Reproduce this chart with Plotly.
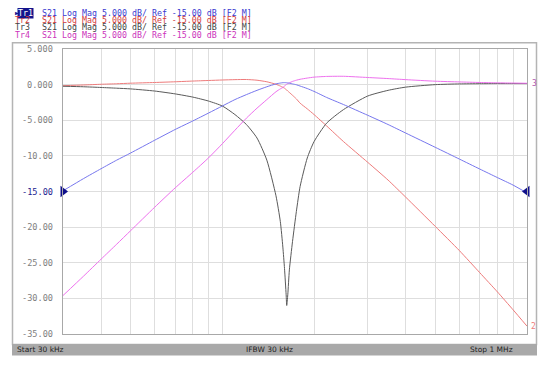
import plotly.graph_objects as go

# ---------------- data ----------------
freq_khz = [30, 35, 40, 45, 50, 60, 70, 80, 90, 100, 110, 120, 130, 140, 150, 155, 158, 160,
            162, 162.7, 164, 166, 170, 175, 180, 190, 200, 220, 250, 300, 350, 400, 500, 600,
            700, 800, 900, 1000]

tr1_db = [-14.9, -13.2, -11.8, -10.6, -9.6, -7.8, -6.3, -5.1, -4.0, -3.0, -2.1, -1.4, -0.8, -0.3,
          0.1, 0.22, 0.27, 0.28, 0.27, 0.26, 0.24, 0.2, 0.1, -0.02, -0.2, -0.55, -0.95, -1.8,
          -2.8, -4.3, -5.6, -6.8, -8.8, -10.45, -11.85, -13.05, -14.1, -15.2]

tr2_db = [-0.15, -0.05, 0.05, 0.12, 0.2, 0.3, 0.4, 0.5, 0.58, 0.65, 0.7, 0.72, 0.62, 0.4,
          0.05, -0.2, -0.38, -0.5, -0.7, -0.75, -0.9, -1.1, -1.5, -2.0, -2.6, -3.4, -4.2, -5.8,
          -8.0, -10.9, -13.4, -15.8, -19.9, -23.3, -26.4, -29.1, -31.6, -33.9]

tr3_db = [-0.23, -0.3, -0.4, -0.5, -0.6, -0.9, -1.3, -1.75, -2.3, -3.0, -4.2, -5.6, -7.5, -10.6,
          -15.6, -19.2, -22.8, -25.8, -29.5, -31.0, -29.5, -26.0, -22.0, -17.8, -14.3, -10.3,
          -8.0, -5.4, -3.5, -1.6, -0.8, -0.35, 0.0, 0.1, 0.13, 0.15, 0.15, 0.15]

tr4_db = [-29.6, -26.9, -24.5, -22.4, -20.5, -17.2, -14.5, -12.3, -10.3, -8.3, -6.4, -4.7, -3.3,
          -2.1, -1.0, -0.6, -0.4, -0.2, 0.0, 0.05, 0.15, 0.25, 0.45, 0.62, 0.75, 0.92, 1.05, 1.15,
          1.17, 1.0, 0.85, 0.7, 0.48, 0.38, 0.3, 0.25, 0.22, 0.19]

y_ticks = [5, 0, -5, -10, -15, -20, -25, -30, -35]
y_tick_labels = ["5.000", "0.000", "-5.000", "-10.00", "-15.00", "-20.00", "-25.00", "-30.00", "-35.00"]
x_grid_khz = [40, 50, 60, 70, 80, 90, 100, 200, 300, 400, 500, 600, 700, 800, 900]

header_lines = [
    ("Tr1", "S21 Log Mag 5.000 dB/ Ref -15.00 dB [F2 M]", "#3a3ad0"),
    ("Tr2", "S21 Log Mag 5.000 dB/ Ref -15.00 dB [F2 M]", "#d23a3a"),
    ("Tr3", "S21 Log Mag 5.000 dB/ Ref -15.00 dB [F2 M]", "#444444"),
    ("Tr4", "S21 Log Mag 5.000 dB/ Ref -15.00 dB [F2 M]", "#cc33bb"),
]
ref_level = -15
status_texts = ["Start 30 kHz", "IFBW 30 kHz", "Stop 1 MHz"]

# ---------------- layout helpers (page offset of 8 px compensated) ----------------
OFF = 8
W, H = 550 - OFF, 365 - OFF
PL, PR, PT, PB = 63, 527, 49.3, 334.5          # plot area in window pixels
L, R, T, B = PL - OFF, W - (PR - OFF), PT - OFF, H - (PB - OFF)


def px(x):
    return (x - PL) / (PR - PL)


def py(y):
    return (PB - y) / (PB - PT)


freq_hz = [f * 1000 for f in freq_khz]
colors = {"tr1": "#7777ee", "tr2": "#ee7b7b", "tr3": "#5a5a5a", "tr4": "#ee70ee"}

fig = go.Figure()
for key, vals in [("tr2", tr2_db), ("tr3", tr3_db), ("tr4", tr4_db), ("tr1", tr1_db)]:
    fig.add_trace(go.Scatter(x=freq_hz, y=vals, mode="lines",
                             line=dict(color=colors[key], width=1, shape="spline", smoothing=0.6),
                             hoverinfo="skip", showlegend=False))

# reference markers
fig.add_trace(go.Scatter(x=[freq_hz[0]], y=[ref_level], mode="markers",
                         marker=dict(symbol="triangle-right", size=10, color="#10108a"),
                         cliponaxis=False, showlegend=False))
fig.add_trace(go.Scatter(x=[freq_hz[-1]], y=[ref_level], mode="markers",
                         marker=dict(symbol="triangle-left", size=10, color="#10108a"),
                         cliponaxis=False, showlegend=False))

shapes = []
# outer frame
shapes.append(dict(type="rect", xref="paper", yref="paper", x0=px(12.5), x1=px(536.5),
                   y0=py(345), y1=py(43), line=dict(color="#b4b4b4", width=1.5)))
# status bar
shapes.append(dict(type="rect", xref="paper", yref="paper", x0=px(12), x1=px(537),
                   y0=py(356), y1=py(344.5), fillcolor="#a9a9a9", line=dict(width=0)))

annotations = []
mono = "DejaVu Sans Mono"
fs = 8.3
line_y = [13.2, 20.4, 27.6, 34.8]
for i, (tr, rest, col) in enumerate(header_lines):
    yy = py(line_y[i])
    if i == 0:
        annotations.append(dict(xref="paper", yref="paper", x=px(12.5), y=yy, text="▶",
                                showarrow=False, xanchor="left", yanchor="middle",
                                font=dict(family=mono, size=6, color="#10108a")))
        annotations.append(dict(xref="paper", yref="paper", x=px(17), y=yy, text=tr,
                                showarrow=False, xanchor="left", yanchor="middle",
                                bgcolor="#14148c", borderpad=0,
                                font=dict(family=mono, size=fs, color="#ffffff")))
    else:
        annotations.append(dict(xref="paper", yref="paper", x=px(13), y=yy, text=tr,
                                showarrow=False, xanchor="left", yanchor="middle",
                                font=dict(family=mono, size=fs, color=col)))
    annotations.append(dict(xref="paper", yref="paper", x=px(39.5), y=yy, text=rest,
                            showarrow=False, xanchor="left", yanchor="middle",
                            font=dict(family=mono, size=fs, color=col)))

for v, lab in zip(y_ticks, y_tick_labels):
    annotations.append(dict(xref="paper", yref="y", x=px(55), y=v, text=lab, showarrow=False,
                            xanchor="right", yanchor="middle",
                            font=dict(family=mono, size=8.6,
                                      color="#23238f" if v == ref_level else "#808080")))

# trace end labels
annotations.append(dict(xref="x", yref="y", x=6, y=tr3_db[-1], text="3", showarrow=False,
                        xanchor="left", yanchor="middle", xshift=3,
                        font=dict(family=mono, size=8, color="#b05ab0")))
annotations.append(dict(xref="x", yref="y", x=6, y=tr2_db[-1], text="2", showarrow=False,
                        xanchor="left", yanchor="middle", xshift=2,
                        font=dict(family=mono, size=8, color="#ee7b7b")))

sans = "DejaVu Sans"
for txt, xpos in zip(status_texts, [15, 244, 468]):
    annotations.append(dict(xref="paper", yref="paper", x=px(xpos), y=py(350.5), text=txt,
                            showarrow=False, xanchor="left", yanchor="middle",
                            font=dict(family=sans, size=7.5, color="#1e1e1e")))

fig.update_layout(
    width=W, height=H, margin=dict(l=L, r=R, t=T, b=B, pad=0),
    paper_bgcolor="white", plot_bgcolor="white",
    shapes=shapes, annotations=annotations, showlegend=False,
    xaxis=dict(type="log", range=[4.4771, 6.0], tickvals=[f * 1000 for f in x_grid_khz],
               showticklabels=False, ticks="", showgrid=True, gridcolor="#dedede", gridwidth=1,
               showline=True, linecolor="#a8a8a8", linewidth=1, mirror=True, zeroline=False,
               fixedrange=True),
    yaxis=dict(range=[-35, 5], tickvals=y_ticks, showticklabels=False, ticks="",
               showgrid=True, gridcolor="#dedede", gridwidth=1, zeroline=False,
               showline=True, linecolor="#a8a8a8", linewidth=1, mirror=True, fixedrange=True),
)

fig.write_html("out.html")
